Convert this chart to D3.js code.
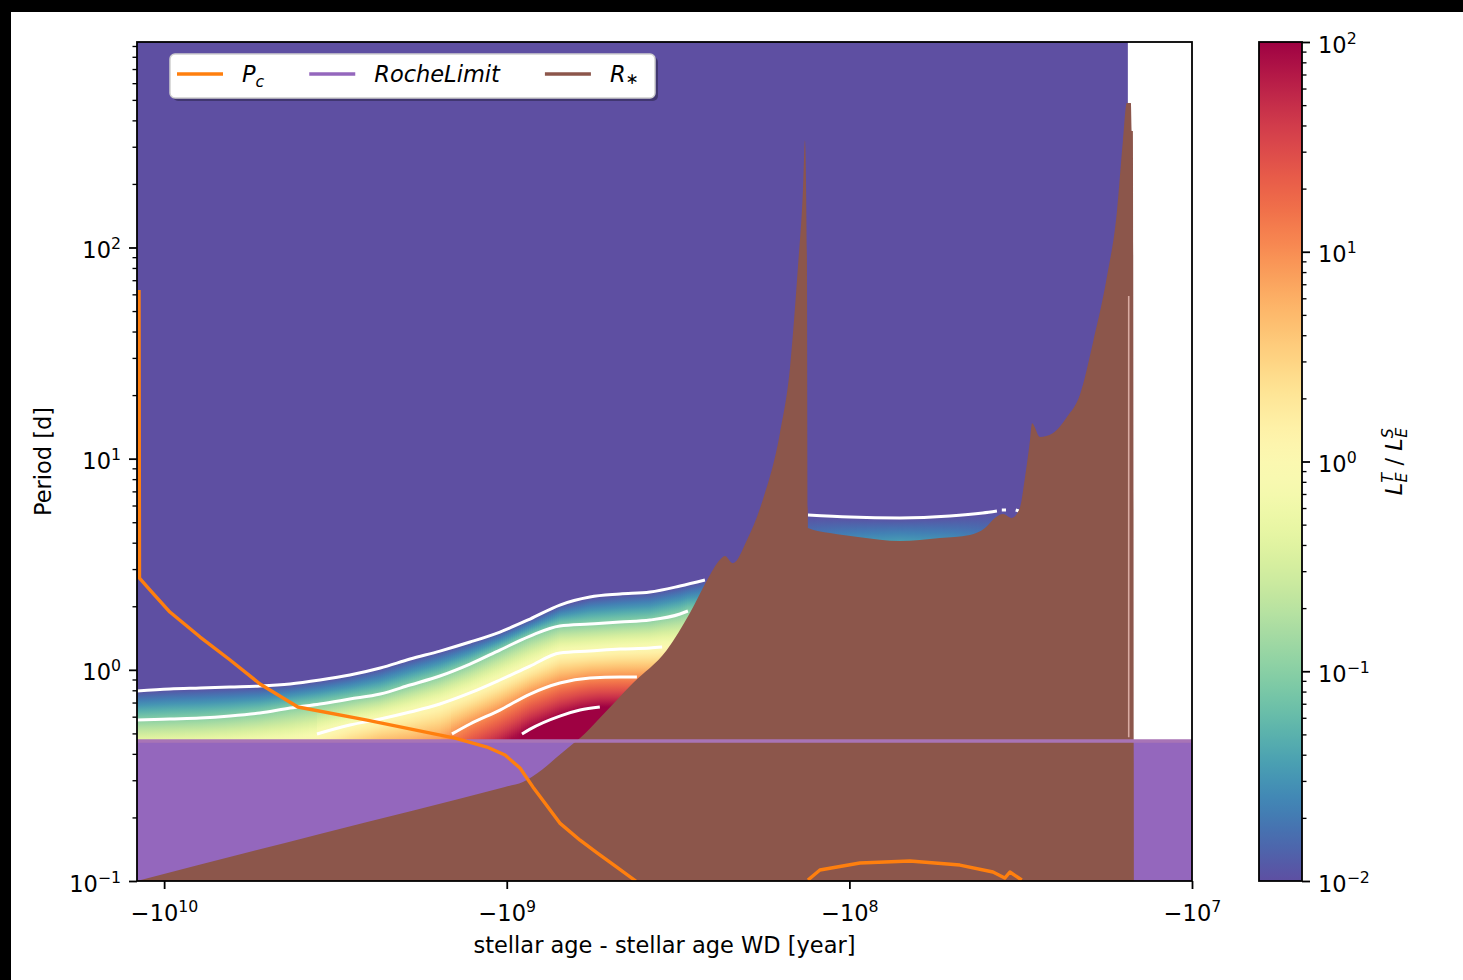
<!DOCTYPE html>
<html>
<head>
<meta charset="utf-8">
<title>Tidal luminosity ratio vs period</title>
<style>
  body { margin: 0; background: #000; }
  svg { display: block; }
  text { font-family: "DejaVu Sans", sans-serif; }
</style>
</head>
<body>
<div id="chart"></div>
<script src="https://d3js.org/d3.v7.min.js"></script>
<script>
// ---- values ----
// age = stellar age - stellar age WD [year], period in days

const xDomain = [-1.2e10, -1e7];
const yDomain = [0.1, 940];
const cbarDomain = [0.01, 100];
const xTickValues = [-1e10, -1e9, -1e8, -1e7];
const yTickValues = [0.1, 1, 10, 100];
const cbarTickValues = [0.01, 0.1, 1, 10, 100];

// extent of the L_E^T / L_E^S map (below the lowest level it is flat)
const heatAge = [-1.2e10, -1.539e7];
const heatPeriod = [0.1, 940];

// contour lines of the map, left band (levels 0.01, 0.1, 1, 10, 100)
const contourLevels = [0.01, 0.1, 1, 10, 100];
const c1Age = [-1.2e10, -9.62e9, -7.85e9, -6.42e9, -5.25e9, -4.29e9, -3.51e9, -2.87e9, -2.34e9, -1.915e9, -1.567e9, -1.28e9, -1.047e9, -8.55e8, -7.0e8, -5.72e8, -4.67e8, -3.82e8, -3.12e8, -2.64e8];
const c1Period = [0.794, 0.811, 0.820, 0.829, 0.838, 0.857, 0.895, 0.945, 1.020, 1.125, 1.227, 1.354, 1.510, 1.740, 2.027, 2.212, 2.285, 2.336, 2.494, 2.662];
const c2Age = [-1.2e10, -9.62e9, -7.85e9, -6.42e9, -5.25e9, -4.29e9, -3.51e9, -2.87e9, -2.34e9, -1.915e9, -1.567e9, -1.28e9, -1.047e9, -8.55e8, -7.0e8, -5.72e8, -4.67e8, -3.82e8, -3.12e8, -2.96e8];
const c2Period = [0.578, 0.585, 0.591, 0.604, 0.624, 0.659, 0.689, 0.727, 0.768, 0.847, 0.935, 1.065, 1.241, 1.445, 1.613, 1.648, 1.684, 1.721, 1.838, 1.899];
const c3Age = [-3.58e9, -2.87e9, -2.34e9, -1.915e9, -1.567e9, -1.28e9, -1.047e9, -8.55e8, -7.0e8, -5.72e8, -4.67e8, -3.82e8, -3.52e8];
const c3Period = [0.497, 0.548, 0.585, 0.631, 0.689, 0.777, 0.895, 1.042, 1.201, 1.227, 1.254, 1.268, 1.282];
const c4Age = [-1.445e9, -1.28e9, -1.047e9, -8.55e8, -7.0e8, -5.72e8, -4.67e8, -4.17e8];
const c4Period = [0.497, 0.554, 0.645, 0.768, 0.866, 0.915, 0.925, 0.925];
const c5Age = [-9.03e8, -8.55e8, -7.0e8, -6.11e8, -5.35e8];
const c5Period = [0.497, 0.524, 0.604, 0.645, 0.667];

// log10 of the ratio where the left band meets the Roche limit
const leftBottomAge = [-1.2e10, -9.62e9, -7.85e9, -6.42e9, -5.25e9, -4.29e9, -3.51e9, -2.87e9, -2.34e9, -1.915e9, -1.567e9, -1.28e9, -1.047e9, -8.55e8, -7.0e8, -5.72e8, -4.67e8, -3.82e8, -3.12e8, -2.55e8];
const leftBottomLog = [-0.3, -0.28, -0.25, -0.2, -0.12, -0.05, 0.12, 0.45, 0.7, 0.8, 0.95, 1.4, 1.8, 2.3, 2.5, 2.5, 2.5, 2.5, 2.5, 2.5];

// right band: 0.01 contour (null = gap) and log10 ratio at period 3.7 d
const rightC1Age = [-1.321e8, -9.96e7, -7.12e7, -5.09e7, -4.08e7, -3.71e7, null, -3.59e7, -3.49e7, null, -3.27e7, -3.20e7];
const rightC1Period = [5.41, 5.29, 5.24, 5.35, 5.53, 5.65, null, 5.71, 5.71, null, 5.71, 5.65];
const rightBottomAge = [-1.321e8, -9.96e7, -7.12e7, -5.09e7, -3.71e7, -3.2e7];
const rightBottomLog = [-1.55, -1.35, -1.25, -1.35, -1.6, -1.8];
const rightBottomPeriod = 3.7;

// P_c
const pcAge = [-1.184e10, -1.18e10, -1.099e10, -9.62e9, -7.85e9, -6.42e9, -5.25e9, -4.07e9, -2.557e9, -1.416e9, -1.142e9, -1.012e9, -9.15e8, -8.39e8, -7.74e8, -7.0e8, -6.11e8, -5.45e8, -4.83e8, -4.20e8];
const pcPeriod = [62.9, 2.72, 2.387, 1.878, 1.43, 1.113, 0.857, 0.667, 0.578, 0.475, 0.431, 0.395, 0.343, 0.279, 0.234, 0.188, 0.156, 0.136, 0.118, 0.1];
const pcLateAge = [-1.321e8, -1.219e8, -9.32e7, -6.66e7, -4.76e7, -3.81e7, -3.52e7, -3.40e7, -3.14e7];
const pcLatePeriod = [0.1011, 0.1127, 0.1217, 0.1244, 0.119, 0.1103, 0.1033, 0.1103, 0.1011];

// Roche limit
const rocheAge = [-1.2e10, -1e7];
const rochePeriod = [0.46, 0.46];

// R_* as a period
const rStarAge = [-1.2e10, -3.51e9, -1.012e9, -8.97e8, -7.89e8, -7.19e8, -6.58e8, -6.11e8, -5.35e8, -4.28e8, -3.41e8, -2.92e8, -2.60e8, -2.39e8, -2.31e8, -2.19e8, -1.99e8, -1.79e8, -1.595e8, -1.49e8, -1.413e8, -1.366e8, -1.348e8, -1.33e8, -1.321e8, -1.14e8, -9.32e7, -7.12e7, -5.44e7, -4.45e7, -4.02e7, -3.76e7, -3.56e7, -3.36e7, -3.18e7, -3.08e7, -2.97e7, -2.93e7, -2.78e7, -2.55e7, -2.32e7, -2.125e7, -1.947e7, -1.772e7, -1.657e7, -1.591e7, -1.55e7, -1.508e7, -1.498e7, -1.488e7, -1.478e7];
const rStarPeriod = [0.1, 0.167, 0.279, 0.294, 0.336, 0.382, 0.431, 0.475, 0.591, 0.866, 1.241, 1.858, 2.662, 3.31, 3.46, 3.20, 4.12, 6.37, 13.2, 27.1, 80.8, 187, 322, 87, 4.69, 4.44, 4.25, 4.07, 4.21, 4.35, 4.69, 5.24, 5.47, 5.24, 5.84, 7.92, 12.25, 14.7, 12.66, 13.2, 15.7, 20.0, 35.3, 72.4, 147, 319, 483, 483, 356, 356, 0.1];

// thin light edge at the end of the track
const edgeAge = [-1.53e7, -1.53e7];
const edgePeriod = [59, 0.48];

// ---- layout ----
const W = 1463, H = 980;
const plot = {left: 137, right: 1192, top: 42, bottom: 881};
const cbar = {left: 1259, right: 1302};
const FS = 22.5, SUP = 15.75;
const cOrange = "#ff7f0e", cPurple = "#9467bd", cBrown = "#8c564b";

const svg = d3.select("#chart").append("svg").attr("width", W).attr("height", H);
svg.append("rect").attr("x", 11).attr("y", 12).attr("width", W - 11).attr("height", H - 12).attr("fill", "#fff");
const defs = svg.append("defs");
defs.append("clipPath").attr("id", "plot-clip").append("rect")
  .attr("x", plot.left).attr("y", plot.top)
  .attr("width", plot.right - plot.left).attr("height", plot.bottom - plot.top);

const x = d3.scaleLog().domain(xDomain).range([plot.left, plot.right]);
const y = d3.scaleLog().domain(yDomain).range([plot.bottom, plot.top]);
const color = d3.scaleSequentialLog(t => d3.interpolateSpectral(1 - t)).domain(cbarDomain).clamp(true);

const zip = (a, p) => a.map((v, i) => ({a: v, p: p[i]}));

// interpolate along log|age|; values are periods (log interp) or logs already.
// holdEnd keeps the last value past the right end (hidden under R_* anyway)
function interpAt(ages, vals, age, isLog, holdEnd) {
  const la = Math.log10(-age);
  const tr = v => isLog ? v : Math.log10(v);
  let lastA = null, lastV = null;
  for (let i = 0; i < ages.length - 1; i++) {
    if (ages[i] == null || ages[i + 1] == null || vals[i] == null || vals[i + 1] == null) continue;
    const a0 = Math.log10(-ages[i]), a1 = Math.log10(-ages[i + 1]);
    lastA = a1; lastV = tr(vals[i + 1]);
    if (la <= a0 && la >= a1) {
      const t = a0 === a1 ? 0 : (la - a0) / (a1 - a0);
      return tr(vals[i]) + t * (tr(vals[i + 1]) - tr(vals[i]));
    }
  }
  if (holdEnd && lastA != null && la < lastA) return lastV;
  return null;
}

const g = svg.append("g").attr("clip-path", "url(#plot-clip)");

// flat background of the map
g.append("rect")
  .attr("x", x(heatAge[0])).attr("y", y(heatPeriod[1]))
  .attr("width", x(heatAge[1]) - x(heatAge[0]))
  .attr("height", y(heatPeriod[0]) - y(heatPeriod[1]))
  .attr("fill", color(cbarDomain[0]));

// coloured bands, drawn as thin columns with vertical gradients
function drawBand(contours, bottom, id) {
  const ages = contours[0].age.filter(a => a != null);
  const px0 = Math.floor(x(d3.min(ages))), px1 = Math.ceil(x(d3.max(ages)));
  const layer = g.append("g");
  for (let px = px0; px < px1; px += 2) {
    const age = x.invert(px + 1);
    const stops = [];
    contours.forEach((c, k) => {
      const lp = interpAt(c.age, c.period, age, false, k > 0);
      if (lp != null) stops.push({py: y(Math.pow(10, lp)), v: Math.log10(c.level)});
    });
    if (!stops.length || stops[0].v !== Math.log10(contours[0].level)) continue;
    const bl = interpAt(bottom.age, bottom.log, age, true, true);
    if (bl == null) continue;
    stops.push({py: y(bottom.period), v: bl});
    stops.sort((a, b) => a.py - b.py);
    const top = stops[0].py, bot = stops[stops.length - 1].py;
    if (bot - top < 1) continue;
    const gid = `${id}-${px}`;
    const grad = defs.append("linearGradient").attr("id", gid)
      .attr("gradientUnits", "userSpaceOnUse")
      .attr("x1", 0).attr("x2", 0).attr("y1", top).attr("y2", bot);
    for (let i = 0; i < stops.length - 1; i++) {
      const s0 = stops[i], s1 = stops[i + 1];
      for (let k = 0; k <= 6; k++) {
        const t = k / 6;
        const py = s0.py + t * (s1.py - s0.py);
        const v = s0.v + t * (s1.v - s0.v);
        grad.append("stop").attr("offset", (py - top) / (bot - top))
          .attr("stop-color", color(Math.pow(10, v)));
      }
    }
    layer.append("rect").attr("x", px).attr("y", top)
      .attr("width", 2.6).attr("height", bot - top)
      .attr("fill", `url(#${gid})`);
  }
}

const leftContours = [
  {level: contourLevels[0], age: c1Age, period: c1Period},
  {level: contourLevels[1], age: c2Age, period: c2Period},
  {level: contourLevels[2], age: c3Age, period: c3Period},
  {level: contourLevels[3], age: c4Age, period: c4Period},
  {level: contourLevels[4], age: c5Age, period: c5Period}
];
const rightContours = [{level: contourLevels[0], age: rightC1Age, period: rightC1Period}];

drawBand(leftContours, {age: leftBottomAge, log: leftBottomLog, period: rochePeriod[0]}, "lb");
drawBand(rightContours, {age: rightBottomAge, log: rightBottomLog, period: rightBottomPeriod}, "rb");

// white contour lines
const line = d3.line()
  .defined(d => d.a != null && d.p != null)
  .x(d => x(d.a)).y(d => y(d.p))
  .curve(d3.curveMonotoneX);
leftContours.concat(rightContours).forEach(c => {
  g.append("path").attr("d", line(zip(c.age, c.period)))
    .attr("fill", "none").attr("stroke", "#fff").attr("stroke-width", 3);
});

// Roche limit fill
const flat = d3.area().x(d => x(d.a)).y0(y(yDomain[0])).y1(d => y(d.p));
g.append("path").attr("d", flat(zip(rocheAge, rochePeriod))).attr("fill", cPurple);

// R_* fill
const smoothArea = d3.area().x(d => x(d.a)).y0(y(yDomain[0])).y1(d => y(d.p))
  .curve(d3.curveMonotoneX);
g.append("path").attr("d", smoothArea(zip(rStarAge, rStarPeriod))).attr("fill", cBrown);

// Roche limit line
const straight = d3.line().x(d => x(d.a)).y(d => y(d.p));
g.append("path").attr("d", straight(zip(rocheAge, rochePeriod)))
  .attr("fill", "none").attr("stroke", "#a874b6").attr("stroke-width", 3.4);

g.append("path").attr("d", straight(zip(edgeAge, edgePeriod)))
  .attr("fill", "none").attr("stroke", "#d9aba2").attr("stroke-width", 1.6);

// P_c
[zip(pcAge, pcPeriod), zip(pcLateAge, pcLatePeriod)].forEach(pts => {
  g.append("path").attr("d", straight(pts))
    .attr("fill", "none").attr("stroke", cOrange).attr("stroke-width", 3.4)
    .attr("stroke-linejoin", "round");
});

// frame
svg.append("rect")
  .attr("x", plot.left).attr("y", plot.top)
  .attr("width", plot.right - plot.left).attr("height", plot.bottom - plot.top)
  .attr("fill", "none").attr("stroke", "#000").attr("stroke-width", 1.8);

// ---- axes ----
function powLabel(sel) {
  sel.each(function (d) {
    const e = Math.round(Math.log10(Math.abs(d)));
    const t = d3.select(this).text(null);
    t.append("tspan").text((d < 0 ? "\u2212" : "") + "10");
    t.append("tspan").attr("dy", -9).attr("font-size", SUP).text(e < 0 ? "\u2212" + (-e) : e);
  });
}
const isMinor = v => Math.abs(Math.log10(v) - Math.round(Math.log10(v))) > 1e-6;

function styleAxis(ax) {
  ax.select(".domain").remove();
  ax.attr("font-family", null).attr("font-size", FS);
  ax.selectAll(".tick line").attr("stroke-width", 1.8);
  ax.selectAll(".tick text").attr("fill", "#000");
}

const xAxis = svg.append("g").attr("transform", `translate(0,${plot.bottom})`)
  .call(d3.axisBottom(x).tickValues(xTickValues).tickSize(8).tickSizeOuter(0));
styleAxis(xAxis);
xAxis.selectAll(".tick text").attr("y", 40).attr("dy", null).call(powLabel);

const yAxis = svg.append("g").attr("transform", `translate(${plot.left},0)`)
  .call(d3.axisLeft(y).tickValues(yTickValues).tickSize(8).tickPadding(8).tickSizeOuter(0));
styleAxis(yAxis);
yAxis.selectAll(".tick text").attr("y", 10).attr("dy", null).call(powLabel);

const yMinor = svg.append("g").attr("transform", `translate(${plot.left},0)`)
  .call(d3.axisLeft(y).tickValues(y.ticks().filter(isMinor)).tickSize(4.5).tickFormat("").tickSizeOuter(0));
yMinor.select(".domain").remove();
yMinor.selectAll(".tick line").attr("stroke-width", 1.35);

svg.append("text").attr("x", (plot.left + plot.right) / 2).attr("y", 953)
  .attr("text-anchor", "middle").attr("font-size", FS)
  .text("stellar age - stellar age WD [year]");
svg.append("text").attr("transform", `translate(51,${(plot.top + plot.bottom) / 2}) rotate(-90)`)
  .attr("text-anchor", "middle").attr("font-size", FS)
  .text("Period [d]");

// ---- legend ----
const legend = svg.append("g");
legend.append("rect").attr("x", 173).attr("y", 57).attr("width", 485).attr("height", 44)
  .attr("rx", 5).attr("fill", "#000").attr("opacity", 0.3);
legend.append("rect").attr("x", 170).attr("y", 54).attr("width", 485).attr("height", 44)
  .attr("rx", 5).attr("fill", "#fff").attr("stroke", "#d0d0d0").attr("stroke-width", 1.5);
const legendItems = [
  {name: "P", sub: "c", subDy: 5, color: cOrange},
  {name: "RocheLimit", sub: null, color: cPurple},
  {name: "R", sub: "\u2217", subDy: 2, color: cBrown}
];
let lx = 177;
legendItems.forEach(it => {
  legend.append("line").attr("x1", lx).attr("x2", lx + 46).attr("y1", 74).attr("y2", 74)
    .attr("stroke", it.color).attr("stroke-width", 3.4);
  const t = legend.append("text").attr("x", lx + 46 + 19).attr("y", 82)
    .attr("font-size", FS).attr("font-style", "italic");
  t.append("tspan").text(it.name);
  if (it.sub) t.append("tspan").attr("dy", it.subDy).attr("font-size", SUP).text(it.sub);
  lx += 46 + 19 + t.node().getComputedTextLength() + 45;
});

// ---- colorbar ----
const cy = d3.scaleLog().domain(cbarDomain).range([plot.bottom, plot.top]);
const cgrad = defs.append("linearGradient").attr("id", "cbar-grad")
  .attr("x1", 0).attr("x2", 0).attr("y1", 0).attr("y2", 1);
d3.range(0, 1.0001, 0.02).forEach(o => {
  cgrad.append("stop").attr("offset", o).attr("stop-color", d3.interpolateSpectral(o));
});
svg.append("rect").attr("x", cbar.left).attr("y", plot.top)
  .attr("width", cbar.right - cbar.left).attr("height", plot.bottom - plot.top)
  .attr("fill", "url(#cbar-grad)").attr("stroke", "#000").attr("stroke-width", 1.8);

const cAxis = svg.append("g").attr("transform", `translate(${cbar.right},0)`)
  .call(d3.axisRight(cy).tickValues(cbarTickValues).tickSize(8).tickPadding(8).tickSizeOuter(0));
styleAxis(cAxis);
cAxis.selectAll(".tick text").attr("y", 10).attr("dy", null).call(powLabel);
const cMinor = svg.append("g").attr("transform", `translate(${cbar.right},0)`)
  .call(d3.axisRight(cy).tickValues(cy.ticks().filter(isMinor)).tickSize(4.5).tickFormat("").tickSizeOuter(0));
cMinor.select(".domain").remove();
cMinor.selectAll(".tick line").attr("stroke-width", 1.35);

const clab = svg.append("text")
  .attr("transform", `translate(1402,${(plot.top + plot.bottom) / 2}) rotate(-90)`)
  .attr("text-anchor", "middle").attr("font-size", FS);
[["T", "E"], ["S", "E"]].forEach(([sup, sub], i) => {
  if (i) clab.append("tspan").attr("dy", -5).attr("font-style", "normal").text(" / ");
  clab.append("tspan").attr("font-style", "italic").text("L");
  clab.append("tspan").attr("font-style", "italic").attr("font-size", SUP).attr("dy", -9).text(sup);
  clab.append("tspan").attr("font-style", "italic").attr("font-size", SUP).attr("dx", -9.5).attr("dy", 14).text(sub);
});
</script>
</body>
</html>
